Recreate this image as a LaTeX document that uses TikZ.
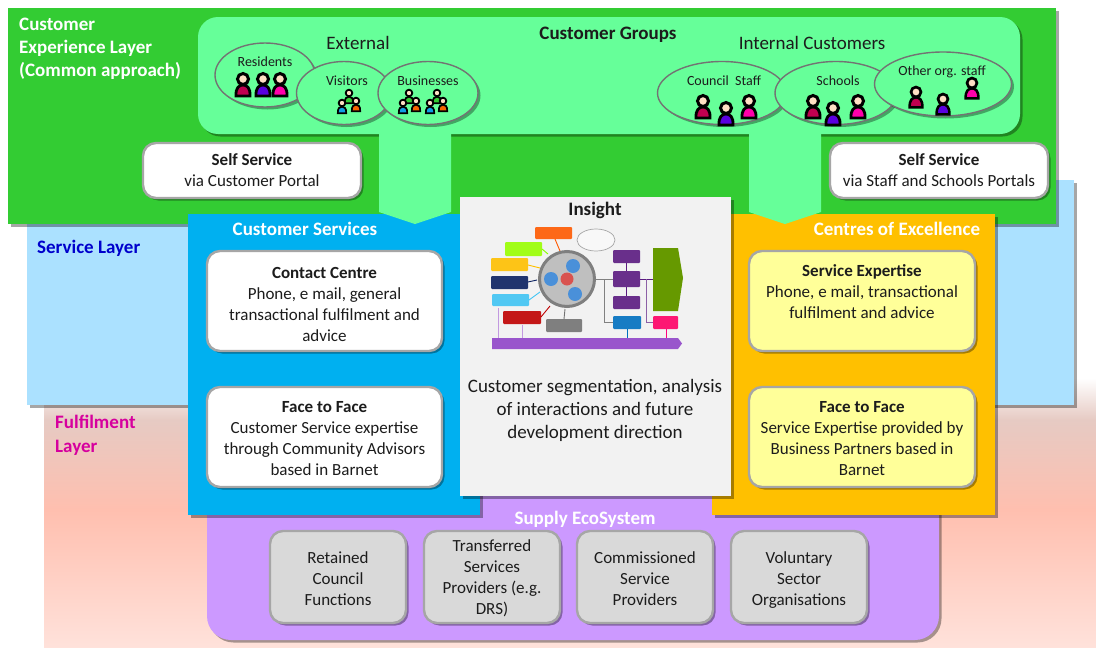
\documentclass[tikz,border=0pt]{standalone}
\usepackage{fontspec}
\setmainfont{Carlito}
\usetikzlibrary{shadows,shapes.geometric}
\definecolor{grn}{HTML}{33CC33}
\definecolor{mint}{HTML}{66FF99}
\definecolor{sky}{HTML}{ABE1FF}
\definecolor{cyanb}{HTML}{00B0F0}
\definecolor{amber}{HTML}{FFC000}
\definecolor{lilac}{HTML}{CC99FF}
\definecolor{pale}{HTML}{F2F2F2}
\definecolor{lemon}{HTML}{FFFF99}
\definecolor{greyb}{HTML}{D9D9D9}
\definecolor{edgeg}{HTML}{A6A6A6}
\definecolor{ink}{HTML}{1C1C1C}
\definecolor{skin}{HTML}{FFDFC4}
\definecolor{pcrim}{HTML}{C00050}
\definecolor{ppur}{HTML}{5A00E0}
\definecolor{pmag}{HTML}{FF00AA}
\definecolor{pblu}{HTML}{0FA0E6}
\definecolor{pora}{HTML}{F76400}
\definecolor{fa}{HTML}{E6CAC3}
\definecolor{fb}{HTML}{FFBFAF}
\definecolor{fc}{HTML}{FFE2DB}
\definecolor{ibar}{HTML}{9955CC}
\definecolor{igreen}{HTML}{669900}
\definecolor{ipurp}{HTML}{5B1A80}
\definecolor{iblue}{HTML}{0070C0}
\definecolor{icirc}{HTML}{4A90D9}
\definecolor{iring}{HTML}{7F7F7F}
\definecolor{idisc}{HTML}{BFBFBF}
\definecolor{ired}{HTML}{D9534F}
\definecolor{inavy}{HTML}{0A2060}
\definecolor{fultext}{HTML}{D6009E}
\tikzset{
  softshadow/.style={drop shadow={shadow xshift=2.5pt,shadow yshift=-2.5pt,opacity=.35,fill=black}},
  panel/.style={softshadow},
  card/.style={draw=edgeg,line width=2.4pt,rounded corners=13pt,softshadow,inner sep=0pt,align=center,text=ink,
    font=\fontsize{17}{21}\selectfont},
  oval/.style={ellipse,draw=black!55,line width=1.4pt,fill=mint,softshadow,inner sep=0pt},
  oname/.style={font=\fontsize{14}{17}\selectfont,text=ink,inner sep=0pt},
  heading/.style={font=\fontsize{19}{23}\selectfont\bfseries,inner sep=0pt},
  plain/.style={font=\fontsize{19}{23}\selectfont,text=ink,inner sep=0pt,align=center},
  mini/.style={rounded corners=1pt,opacity=.9},
}
\newcommand{\person}[4]{%
  \begin{scope}[shift={(#1,#2)},scale=#3]
    \draw[black,line width=#3*2.8pt,fill=#4] (-7,17) .. controls (-7.5,9) and (-4,6) .. (0,6) .. controls (4,6) and (7.5,9) .. (7,17) -- cycle;
    \draw[black,line width=#3*3pt,fill=skin] (0,0) circle (5.5);
  \end{scope}}
\newcommand{\upa}{\rule{0pt}{18pt}}
\newcommand{\upb}{\rule{0pt}{15pt}}
\begin{document}
\begin{tikzpicture}[x=1pt,y=-1pt]
\useasboundingbox (0,0) rectangle (1096,648);
\fill[white] (0,0) rectangle (1096,648);
% fulfilment layer
\shade[top color=white,bottom color=fa] (44,378) rectangle (1096,420);
\shade[top color=fa,bottom color=fb] (44,420) rectangle (1096,510);
\shade[top color=fb,bottom color=fc] (44,510) rectangle (1096,648);
% service layer
\path[panel,fill=sky] (27,180) rectangle (1074,405);
% supply ecosystem
\path[panel,fill=lilac,rounded corners=24pt] (207,470) rectangle (939,640);
% customer experience layer
\path[panel,fill=grn] (8,8) rectangle (1056,224);
\path[panel,fill=mint,rounded corners=20pt] (198,17) rectangle (1020,134);
% service panels
\path[panel,fill=cyanb] (188,214) rectangle (480,515);
\path[panel,fill=amber] (712,214) rectangle (995,515);
% block arrows
\fill[mint] (379,134) -- (451,134) -- (451,212) -- (415,224) -- (379,212) -- cycle;
\fill[mint] (749,134) -- (821,134) -- (821,212) -- (785,224) -- (749,212) -- cycle;
% insight panel
\path[panel,fill=pale] (460,197) rectangle (731,496);

% insight diagram
\fill[mini,fill=orange!70!red] (535,227) rectangle (572,239);
\fill[mini,fill=lime!80!green] (505,242) rectangle (542,256);
\fill[mini,fill=amber] (491,258) rectangle (528,271);
\fill[mini,fill=inavy] (491,276) rectangle (528,289);
\fill[mini,fill=cyanb!75!white] (492,294) rectangle (529,306);
\fill[mini,fill=red!75!black] (503,311) rectangle (541,324);
\fill[mini,fill=black!55] (546,319) rectangle (582,332);
\draw[black!35,line width=.7pt,fill=pale!50!white] (596,240) ellipse (19 and 11);
\draw[line width=.9pt,orange!70!red] (555,239) -- (560,251);
\draw[line width=.9pt,lime!70!green] (542,249) -- (548,254);
\draw[line width=.9pt,amber] (528,265) -- (540,268);
\draw[line width=.9pt,inavy] (528,282) -- (537,280);
\draw[line width=.9pt,cyanb!75!white] (529,300) -- (540,292);
\draw[line width=.9pt,red!75!black] (541,317) -- (550,306);
\draw[line width=.9pt,black!55] (564,319) -- (565,309);
\draw[line width=1pt,black!50] (595,279) -- (613,279) (604,279) -- (604,322) -- (613,322);
\draw[line width=1pt,ipurp] (640,279) -- (653,279);
\draw[line width=1pt,ipurp!70!white] (646,279) -- (646,322) -- (653,322);
\draw[line width=1pt,ipurp] (626,263) -- (626,271) (626,287) -- (626,296);
\draw[line width=1pt,ibar!60!white] (498,308) -- (498,338) (522,325) -- (522,338);
\draw[line width=1pt,iblue] (627,329) -- (627,338);
\draw[line width=1pt,red!50!magenta] (666,329) -- (666,338);
\draw[iring,line width=3pt,fill=idisc] (567,279) circle (27.5);
\fill[icirc] (573,266) circle (7) (551,279) circle (7) (575,294) circle (7);
\fill[ired] (567,279) circle (6.5);
\fill[mini,fill=ipurp] (613,250) rectangle (640,263);
\fill[mini,fill=ipurp] (613,271) rectangle (640,287);
\fill[mini,fill=ipurp] (613,296) rectangle (640,309);
\fill[mini,fill=iblue] (613,316) rectangle (641,329);
\fill[fill=igreen] (653,248) -- (678,248) -- (683,278) -- (678,311) -- (653,311) -- cycle;
\fill[mini,fill=red!60!magenta] (653,316) rectangle (678,329);
\fill[fill=ibar] (492,338) -- (678,338) -- (682,343.5) -- (678,349) -- (492,349) -- cycle;

% titles
\node[heading,text=white,anchor=north west,align=left] (cxl) at (19,18) {Customer\\Experience Layer\\(Common approach)};
\node[heading,text=ink] (groups) at (608,35) {Customer Groups};
\node[plain] (ext) at (358,43) {External};
\node[plain] (int) at (812,43) {Internal Customers};
\node[heading,text=blue!80!black,anchor=west] (svc) at (37,248) {Service Layer};
\node[heading,text=fultext,font=\fontsize{19}{24}\selectfont\bfseries,anchor=north west,align=left] (ful) at (55,415) {Fulfilment\\Layer};
\node[heading,text=white] (cs) at (305,229) {Customer Services};
\node[heading,text=white] (coe) at (897,229) {Centres of Excellence};
\node[heading,text=ink] (ins) at (595,210) {Insight};
\node[plain] (seg) at (595,410) {Customer segmentation, analysis\\of interactions and future\\development direction};
\node[heading,text=white] (sup) at (585,519) {Supply EcoSystem};

% ovals
\node[oval,minimum width=100pt,minimum height=64pt] (oa) at (265,75) {};
\node[oname] (la) at (265,62) {Residents};
\node[oval,minimum width=95pt,minimum height=63pt] (ob) at (344,93) {};
\node[oname] (lb) at (347,81) {Visitors};
\node[oval,minimum width=100pt,minimum height=63pt] (oc) at (428,93) {};
\node[oname] (lc) at (428,81) {Businesses};
\node[oval,minimum width=129pt,minimum height=63pt] (od) at (722,93) {};
\node[oname] (ld) at (724,81) {Council\ \ Staff};
\node[oval,minimum width=122pt,minimum height=63pt] (oe) at (836,93) {};
\node[oname] (le) at (838,81) {Schools};
\node[oval,minimum width=137pt,minimum height=64pt] (of) at (943,84) {};
\node[oname] (lf) at (942,72) {Other org. staff};

% people
\person{243}{79}{1}{pcrim}\person{263}{79}{1}{ppur}\person{280}{79}{1}{pmag}
\person{349}{93}{.6}{grn}\person{342}{103}{.6}{pblu}\person{356}{101}{.6}{pora}
\person{409}{93}{.6}{grn}\person{403}{103}{.6}{pblu}\person{416}{101}{.6}{pora}
\person{437}{93}{.6}{grn}\person{430}{103}{.6}{pblu}\person{443}{101}{.6}{pora}
\person{703}{101}{1}{pcrim}\person{749}{101}{1}{pmag}\person{726}{108}{1}{ppur}
\person{813}{101}{1}{pcrim}\person{858}{101}{1}{pmag}\person{833}{108}{1}{ppur}
\person{916}{92}{.9}{pcrim}\person{943}{99}{.9}{ppur}\person{972}{83}{.9}{pmag}

% cards
\node[card,fill=white,minimum width=218pt,minimum height=55pt] (ss1) at (252,170.5) {\textbf{Self Service}\\via Customer Portal};
\node[card,fill=white,minimum width=218pt,minimum height=55pt] (ss2) at (939,170.5) {\textbf{Self Service}\\via Staff and Schools Portals};
\node[card,fill=white,minimum width=235pt,minimum height=100pt] (cc) at (324.5,301) {\upa\textbf{Contact Centre}\\Phone, e mail, general\\transactional fulfilment and\\advice};
\node[card,fill=white,minimum width=235pt,minimum height=100pt] (f1) at (324.5,437) {\upb\textbf{Face to Face}\\Customer Service expertise\\through Community Advisors\\based in Barnet};
\node[card,fill=lemon,minimum width=226pt,minimum height=100pt] (se) at (862,301) {\textbf{Service Expertise}\\Phone, e mail, transactional\\fulfilment and advice\rule[-18pt]{0pt}{0pt}};
\node[card,fill=lemon,minimum width=226pt,minimum height=100pt] (f2) at (862,437) {\upb\textbf{Face to Face}\\Service Expertise provided by\\Business Partners based in\\Barnet};
\node[card,fill=greyb,minimum width=136pt,minimum height=92pt] (s1) at (338,577) {\upb Retained\\Council\\Functions};
\node[card,fill=greyb,minimum width=136pt,minimum height=92pt] (s2) at (492,577) {\upb Transferred\\Services\\Providers (e.g.\\DRS)};
\node[card,fill=greyb,minimum width=136pt,minimum height=92pt] (s3) at (645,577) {\upb Commissioned\\Service\\Providers};
\node[card,fill=greyb,minimum width=136pt,minimum height=92pt] (s4) at (799,577) {\upa Voluntary\\Sector\\Organisations};
\end{tikzpicture}
\end{document}
